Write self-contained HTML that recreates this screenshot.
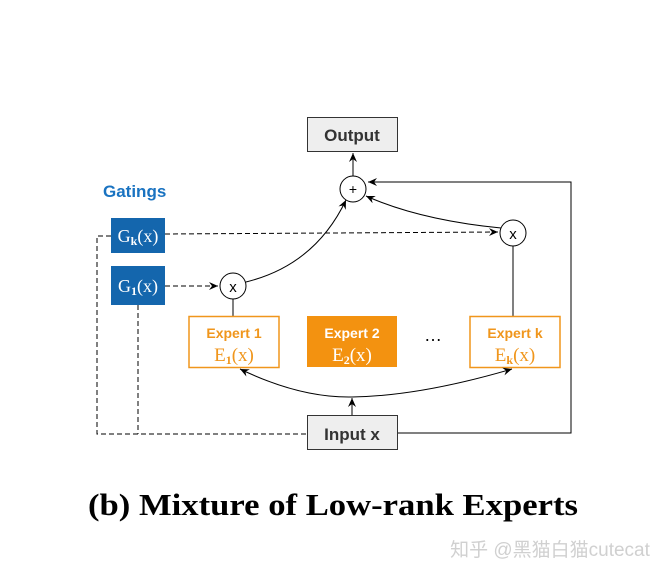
<!DOCTYPE html>
<html><head><meta charset="utf-8"><style>
html,body{margin:0;padding:0;background:#fff;width:672px;height:578px;overflow:hidden}
</style></head><body>
<svg width="672" height="578" viewBox="0 0 672 578" xmlns="http://www.w3.org/2000/svg" font-family="Liberation Sans, sans-serif">
<defs>
<marker id="a" markerWidth="10" markerHeight="10" refX="9" refY="5" orient="auto" markerUnits="userSpaceOnUse">
<path d="M0,1 L9,5 L0,9 L3,5 Z" fill="#000"/></marker>
</defs>
<rect x="307.5" y="117.5" width="90" height="34" fill="#eee" stroke="#333"/>
<text x="352" y="141" text-anchor="middle" font-size="17" font-weight="bold" fill="#333">Output</text>
<line x1="353" y1="176" x2="353" y2="153" stroke="#000" marker-end="url(#a)"/>
<circle cx="353" cy="189" r="13" fill="#fff" stroke="#000"/>
<text x="353" y="194" text-anchor="middle" font-size="14">+</text>
<text x="103" y="197" font-size="17" font-weight="bold" fill="#1a73c1">Gatings</text>
<rect x="111" y="218" width="54" height="35" fill="#1466ad"/>
<text x="138" y="242" text-anchor="middle" font-size="18" fill="#fff" font-family="Liberation Serif, serif">G<tspan font-size="12" dy="3" font-weight="bold">k</tspan><tspan dy="-3">(x)</tspan></text>
<rect x="111" y="266" width="54" height="39" fill="#1466ad"/>
<text x="138" y="292" text-anchor="middle" font-size="18" fill="#fff" font-family="Liberation Serif, serif">G<tspan font-size="12" dy="3" font-weight="bold">1</tspan><tspan dy="-3">(x)</tspan></text>
<g stroke="#000" stroke-dasharray="5,3" fill="none">
<path d="M111,236 H97 V434 H307"/>
<path d="M138,305 V434"/>
<path d="M165,234 L498,232" marker-end="url(#a)"/>
<path d="M165,286 L218,286" marker-end="url(#a)"/>
</g>
<circle cx="233" cy="286" r="13" fill="#fff" stroke="#000"/>
<text x="233" y="292" text-anchor="middle" font-size="15">x</text>
<circle cx="513" cy="233" r="13" fill="#fff" stroke="#000"/>
<text x="513" y="239" text-anchor="middle" font-size="15">x</text>
<line x1="233" y1="299" x2="233" y2="316" stroke="#000"/>
<line x1="513" y1="246" x2="513" y2="316" stroke="#000"/>
<path d="M246,282 Q315,265 346,200" fill="none" stroke="#000" marker-end="url(#a)"/>
<path d="M501,228 Q420,220 366,196" fill="none" stroke="#000" marker-end="url(#a)"/>
<path d="M397,433 H571 V182 H368" fill="none" stroke="#000" marker-end="url(#a)"/>
<rect x="189" y="316.5" width="90" height="51" fill="#fff" stroke="#f0961c" stroke-width="1.5"/>
<text x="234" y="338" text-anchor="middle" font-size="14" font-weight="bold" fill="#f0961c">Expert 1</text>
<text x="234" y="361" text-anchor="middle" font-size="19" fill="#f0961c" font-family="Liberation Serif, serif">E<tspan font-size="12" dy="3" font-weight="bold">1</tspan><tspan dy="-3">(x)</tspan></text>
<rect x="307" y="316" width="90" height="51" fill="#f39210"/>
<text x="352" y="338" text-anchor="middle" font-size="14" font-weight="bold" fill="#fff">Expert 2</text>
<text x="352" y="361" text-anchor="middle" font-size="19" fill="#fff" font-family="Liberation Serif, serif">E<tspan font-size="12" dy="3" font-weight="bold">2</tspan><tspan dy="-3">(x)</tspan></text>
<text x="433" y="341" text-anchor="middle" font-size="18">…</text>
<rect x="470" y="316.5" width="90" height="51" fill="#fff" stroke="#f0961c" stroke-width="1.5"/>
<text x="515" y="338" text-anchor="middle" font-size="14" font-weight="bold" fill="#f0961c">Expert k</text>
<text x="515" y="361" text-anchor="middle" font-size="19" fill="#f0961c" font-family="Liberation Serif, serif">E<tspan font-size="12" dy="3" font-weight="bold">k</tspan><tspan dy="-3">(x)</tspan></text>
<path d="M352,397 Q300,398 240,369" fill="none" stroke="#000" marker-end="url(#a)"/>
<path d="M352,397 Q420,396 512,369" fill="none" stroke="#000" marker-end="url(#a)"/>
<line x1="352" y1="415" x2="352" y2="398" stroke="#000" marker-end="url(#a)"/>
<rect x="307.5" y="415.5" width="90" height="34" fill="#eee" stroke="#333"/>
<text x="352" y="440" text-anchor="middle" font-size="17" font-weight="bold" fill="#333">Input x</text>
<text x="88" y="515" font-size="31" font-weight="bold" font-family="Liberation Serif, serif" textLength="490" lengthAdjust="spacingAndGlyphs">(b) Mixture of Low-rank Experts</text>
<text x="550" y="556" text-anchor="middle" font-size="19" fill="#d0d0d0" font-family="Liberation Sans, Noto Sans CJK SC, sans-serif">知乎 @黑猫白猫cutecat</text>
</svg>
</body></html>
